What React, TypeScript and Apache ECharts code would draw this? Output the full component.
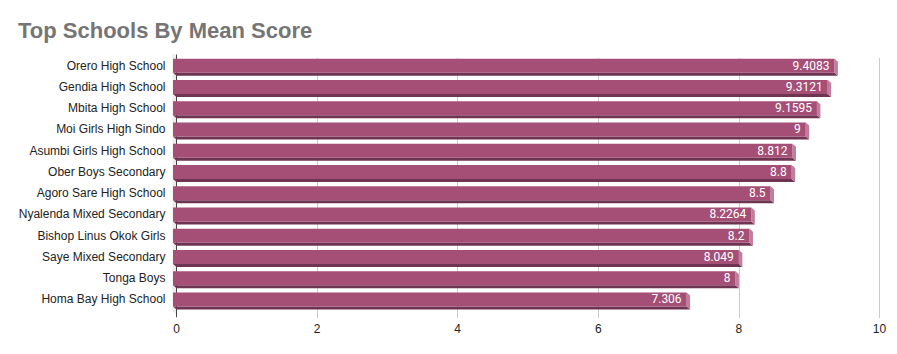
import React, { useEffect, useRef } from "react";
import * as echarts from "echarts";

const schools = [
  "Orero High School",
  "Gendia High School",
  "Mbita High School",
  "Moi Girls High Sindo",
  "Asumbi Girls High School",
  "Ober Boys Secondary",
  "Agoro Sare High School",
  "Nyalenda Mixed Secondary",
  "Bishop Linus Okok Girls",
  "Saye Mixed Secondary",
  "Tonga Boys",
  "Homa Bay High School",
];
const meanScores = [9.4083, 9.3121, 9.1595, 9, 8.812, 8.8, 8.5, 8.2264, 8.2, 8.049, 8, 7.306];
const scoreLabels = ["9.4083", "9.3121", "9.1595", "9", "8.812", "8.8", "8.5", "8.2264", "8.2", "8.049", "8", "7.306"];
const xTicks = [0, 2, 4, 6, 8, 10];

export default function App() {
  const ref = useRef<HTMLDivElement>(null);
  useEffect(() => {
    if (!ref.current) return;
    const chart = echarts.init(ref.current, null, { renderer: "svg" });
    const DX = 3.5;
    const DY = 3;
    const H = 14;
    const option: any = {
      animation: false,
      title: {
        text: "Top Schools By Mean Score",
        left: 13,
        top: 14,
        textStyle: {
          fontFamily: "Liberation Sans, Arial, sans-serif",
          fontSize: 22,
          fontWeight: "bold",
          color: "#757575",
        },
      },
      grid: [
        { left: 176.5, right: 17.5, top: 58, bottom: 39 },
        { left: 176.5, right: 17.5, top: 55, bottom: 44 },
      ],
      xAxis: [
        {
          gridIndex: 0,
          type: "value",
          min: xTicks[0],
          max: xTicks[xTicks.length - 1],
          interval: 2,
          axisLine: { show: false },
          axisTick: { show: true, length: 3, lineStyle: { color: "#cccccc" } },
          splitLine: { show: true, lineStyle: { color: "#cccccc", width: 1 } },
          axisLabel: {
            margin: 8,
            color: "#222222",
            fontSize: 12,
            fontFamily: "Liberation Sans, Arial, sans-serif",
          },
        },
        {
          gridIndex: 1,
          type: "value",
          min: xTicks[0],
          max: xTicks[xTicks.length - 1],
          show: false,
        },
      ],
      yAxis: [
        {
          gridIndex: 0,
          type: "category",
          data: schools,
          show: false,
        },
        {
          gridIndex: 1,
          type: "category",
          data: schools,
          inverse: true,
          axisLine: { show: true, lineStyle: { color: "#333333", width: 1 } },
          axisTick: { show: false },
          axisLabel: {
            margin: 11,
            color: "#222222",
            fontSize: 12,
            fontFamily: "Liberation Sans, Arial, sans-serif",
          },
        },
      ],
      series: [
        {
          type: "custom",
          xAxisIndex: 1,
          yAxisIndex: 1,
          z: 5,
          encode: { x: 0, y: 1 },
          data: meanScores.map((v, i) => [v, i]),
          renderItem: (params: any, api: any) => {
            const v = api.value(0);
            const idx = api.value(1);
            const end = api.coord([v, idx]);
            const start = api.coord([0, idx]);
            const c = end[1];
            const x0 = start[0];
            const x1 = end[0];
            const children: any[] = [];
            if (params.dataIndex === 0) {
              const cs = params.coordSys;
              children.push({
                type: "polygon",
                shape: {
                  points: [
                    [cs.x - 4, cs.y - 2],
                    [cs.x, cs.y + 1],
                    [cs.x, cs.y + cs.height + 4],
                    [cs.x - 4, cs.y + cs.height + 1],
                  ],
                },
                style: { fill: "#ececec" },
              });
              children.push({
                type: "line",
                shape: { x1: cs.x, y1: cs.y + 1, x2: cs.x, y2: cs.y + cs.height + 7 },
                style: { stroke: "#444444", lineWidth: 1 },
              });
            }
            children.push({
              type: "polygon",
              shape: {
                points: [
                  [x0 - DX, c + H / 2],
                  [x1 - DX, c + H / 2],
                  [x1, c + H / 2 + DY],
                  [x0, c + H / 2 + DY],
                ],
              },
              style: { fill: "#6e3452" },
            });
            children.push({
              type: "polygon",
              shape: {
                points: [
                  [x1 - DX, c - H / 2],
                  [x1, c - H / 2 + DY],
                  [x1, c + H / 2 + DY],
                  [x1 - DX, c + H / 2],
                ],
              },
              style: { fill: "#c27c9c" },
            });
            children.push({
              type: "rect",
              shape: { x: x0 - DX, y: c - H / 2, width: x1 - x0, height: H },
              style: { fill: "#a54f77" },
            });
            children.push({
              type: "text",
              x: x1 - DX - 5,
              y: c,
              style: {
                text: scoreLabels[params.dataIndex],
                fill: "#ffffff",
                align: "right",
                verticalAlign: "middle",
                font: "12px Roboto, sans-serif",
              },
            });
            return { type: "group", children };
          },
        },
      ],
    };
    chart.setOption(option);
    return () => chart.dispose();
  }, []);
  return (
    <div
      ref={ref}
      style={{ position: "absolute", left: 0, top: 0, width: 897, height: 354 }}
    />
  );
}
